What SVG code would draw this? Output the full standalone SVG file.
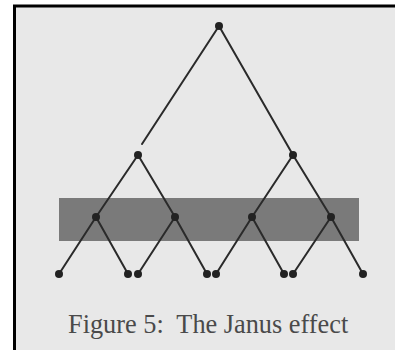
<svg xmlns="http://www.w3.org/2000/svg" width="395" height="350" viewBox="0 0 395 350">
<style>
.edge{stroke:#2a2a2a;stroke-width:2;fill:none;stroke-linecap:round}
.dot{fill:#222}
.cap{font-family:"Liberation Serif","Times New Roman",serif;font-size:26.3px;fill:#4a4a4a;white-space:pre}
</style>
<rect x="0" y="0" width="395" height="350" fill="#ffffff"/>
<rect x="15" y="6" width="380" height="344" fill="#e8e8e8"/>
<path d="M14.5 350 V6 H395" stroke="#000" stroke-width="3" fill="none"/>
<rect id="band" x="59" y="198" width="300" height="43" fill="#7a7a7a"/>
<g id="connectors">
<line class="edge" x1="219" y1="26" x2="142" y2="144"/>
<line class="edge" x1="219" y1="26" x2="293" y2="155"/>
<line class="edge" x1="138" y1="155" x2="96" y2="217"/>
<line class="edge" x1="138" y1="155" x2="175" y2="217"/>
<line class="edge" x1="293" y1="155" x2="252" y2="217"/>
<line class="edge" x1="293" y1="155" x2="331" y2="217"/>
<line class="edge" x1="96" y1="217" x2="59" y2="274"/>
<line class="edge" x1="96" y1="217" x2="128" y2="274"/>
<line class="edge" x1="175" y1="217" x2="138" y2="274"/>
<line class="edge" x1="175" y1="217" x2="207" y2="274"/>
<line class="edge" x1="252" y1="217" x2="216" y2="274"/>
<line class="edge" x1="252" y1="217" x2="284" y2="274"/>
<line class="edge" x1="331" y1="217" x2="293" y2="274"/>
<line class="edge" x1="331" y1="217" x2="363" y2="274"/>
</g>
<g id="n_root"><circle class="dot" cx="219" cy="26" r="4"/></g>
<g id="n_l"><circle class="dot" cx="138" cy="155" r="4"/></g>
<g id="n_r"><circle class="dot" cx="293" cy="155" r="4"/></g>
<g id="n_ll"><circle class="dot" cx="96" cy="217" r="4"/></g>
<g id="n_lr"><circle class="dot" cx="175" cy="217" r="4"/></g>
<g id="n_rl"><circle class="dot" cx="252" cy="217" r="4"/></g>
<g id="n_rr"><circle class="dot" cx="331" cy="217" r="4"/></g>
<g id="b1"><circle class="dot" cx="59" cy="274" r="4"/></g>
<g id="b2"><circle class="dot" cx="128" cy="274" r="4"/></g>
<g id="b3"><circle class="dot" cx="138" cy="274" r="4"/></g>
<g id="b4"><circle class="dot" cx="207" cy="274" r="4"/></g>
<g id="b5"><circle class="dot" cx="216" cy="274" r="4"/></g>
<g id="b6"><circle class="dot" cx="284" cy="274" r="4"/></g>
<g id="b7"><circle class="dot" cx="293" cy="274" r="4"/></g>
<g id="b8"><circle class="dot" cx="363" cy="274" r="4"/></g>
<text class="cap" x="68" y="333" xml:space="preserve">Figure 5:  The Janus effect</text>
</svg>
